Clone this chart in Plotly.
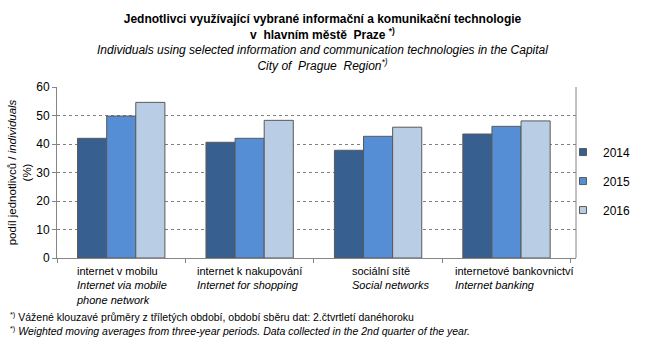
import plotly.graph_objects as go

# Categories (Czech label, English label)
categories_cz = ["internet v mobilu", "internet k nakupování", "sociální sítě", "internetové bankovnictví"]
categories_en = ["Internet via mobile<br>phone network", "Internet for shopping", "Social networks", "Internet banking"]

years = ["2014", "2015", "2016"]
values_2014 = [42.0, 40.6, 37.8, 43.5]
values_2015 = [49.8, 42.0, 42.7, 46.2]
values_2016 = [54.6, 48.3, 45.9, 48.1]
yticks = [0, 10, 20, 30, 40, 50, 60]

colors = ["#375F8F", "#558ED5", "#B9CDE5"]
label_xshift = [0, 0, 13, 8]   # nudges for the left-aligned category label blocks
FONT = "Liberation Sans, Arial, sans-serif"

L, R, T, B = 57, 69, 87, 92
PW = 645 - L - R

fig = go.Figure()
for i, (yr, vals) in enumerate(zip(years, [values_2014, values_2015, values_2016])):
    fig.add_trace(go.Bar(
        x=categories_cz, y=vals, name=yr, showlegend=False,
        marker=dict(color=colors[i], line=dict(color="#595959", width=1)),
    ))
    # small square legend keys
    fig.add_trace(go.Scatter(
        x=[None], y=[None], mode="markers", name=yr, legendgroup=yr,
        marker=dict(symbol="square", size=7, color=colors[i],
                    line=dict(color="#595959", width=1)),
    ))

# category labels: Czech upright, English italic, lines left-aligned
for cz, en, dx in zip(categories_cz, categories_en, label_xshift):
    fig.add_annotation(
        x=cz, xref="x", y=0, yref="paper", yanchor="top", yshift=-5, xshift=dx,
        text=f"{cz}<br><i>{en}</i>", showarrow=False, align="left",
        font=dict(family=FONT, size=11, color="#000000"),
    )

# footnotes
fig.add_annotation(
    xref="paper", x=(8 - L) / PW, xanchor="left",
    yref="paper", y=-(308 - 258) / 171, yanchor="top", showarrow=False,
    text="<sup>*)</sup> Vážené klouzavé průměry z tříletých období, období sběru dat: 2.čtvrtletí danéhoroku"
         "<br><sup>*)</sup> <i>Weighted moving averages from three-year periods. Data collected in the 2nd quarter of the year.</i>",
    align="left", font=dict(family=FONT, size=10.5, color="#000000"),
)

# right frame line of the plot area
fig.add_shape(type="line", xref="paper", yref="paper", x0=1, x1=1, y0=0, y1=1,
              line=dict(color="#868686", width=1))

fig.update_layout(
    width=645, height=350,
    margin=dict(l=L, r=R, t=T, b=B, autoexpand=False),
    paper_bgcolor="white", plot_bgcolor="white",
    font=dict(family=FONT, size=12, color="#000000"),
    barmode="group", bargap=0.32, bargroupgap=0,
    title=dict(
        text="<b>Jednotlivci využívající vybrané informační a komunikační technologie<br>"
             "v  hlavním městě  Praze <sup>*)</sup></b><br>"
             "<i>Individuals using selected information and communication technologies in the Capital<br>"
             "City of  Prague  Region<sup>*)</sup></i>",
        x=0.5, xref="container", xanchor="center",
        y=1, yref="container", yanchor="top", pad=dict(t=23),
        font=dict(family=FONT, size=12, color="#000000"),
    ),
    legend=dict(
        xref="paper", x=(563 - L) / PW, xanchor="left", y=0.45, yanchor="middle",
        font=dict(family=FONT, size=12, color="#000000"),
        tracegroupgap=10, bgcolor="rgba(0,0,0,0)",
    ),
    showlegend=True,
)

fig.update_xaxes(
    type="category", tickson="boundaries", ticks="outside", ticklen=4,
    tickcolor="#868686", showticklabels=False, showline=True,
    linecolor="#868686", showgrid=False,
)
fig.update_yaxes(
    range=[0, 60], tickvals=yticks, ticks="outside", ticklen=4,
    tickcolor="#868686", showline=True, linecolor="#868686",
    showgrid=True, gridcolor="#808080", griddash="dot", gridwidth=1,
    zeroline=False, tickfont=dict(family=FONT, size=12, color="#000000"),
    title=dict(text="podíl jednotlivců / <i>individuals</i><br>(%)",
               font=dict(family=FONT, size=11.5, color="#000000"), standoff=2),
)

fig.write_html("out.html")
